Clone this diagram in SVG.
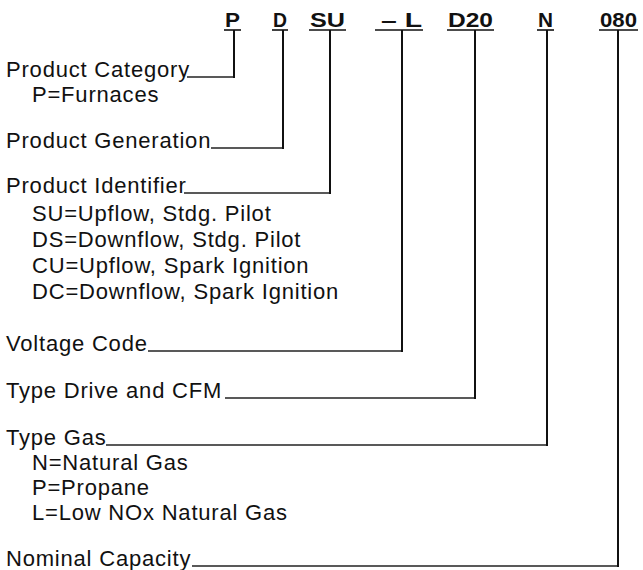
<svg xmlns="http://www.w3.org/2000/svg" width="643" height="570" viewBox="0 0 643 570">
<style>
.t{font-family:"Liberation Sans",Arial,sans-serif;font-size:22px;letter-spacing:0.8px;fill:#111}
.c{font-family:"Liberation Sans",Arial,sans-serif;font-size:21px;font-weight:bold;fill:#111}
.h{stroke:#222;stroke-width:1.4;fill:none}
.v{stroke:#111;stroke-width:2;fill:none}
.ul{stroke:#111;stroke-width:1.6}
</style>
<rect width="643" height="570" fill="#fff"/>
<g id="codes">
<text class="c" x="225" y="27" textLength="15" lengthAdjust="spacingAndGlyphs">P</text>
<text class="c" x="273" y="27" textLength="14" lengthAdjust="spacingAndGlyphs">D</text>
<text class="c" x="310" y="27" textLength="35" lengthAdjust="spacingAndGlyphs">SU</text>
<text class="c" x="381" y="27" textLength="41" lengthAdjust="spacingAndGlyphs">– L</text>
<text class="c" x="448" y="27" textLength="45" lengthAdjust="spacingAndGlyphs">D20</text>
<text class="c" x="538" y="27" textLength="15" lengthAdjust="spacingAndGlyphs">N</text>
<text class="c" x="600" y="27" textLength="37" lengthAdjust="spacingAndGlyphs">080</text>
<line class="ul" x1="224" y1="30" x2="241" y2="30"/>
<line class="ul" x1="272" y1="30" x2="288" y2="30"/>
<line class="ul" x1="309" y1="30" x2="346" y2="30"/>
<line class="ul" x1="375" y1="30" x2="423" y2="30"/>
<line class="ul" x1="447" y1="30" x2="494" y2="30"/>
<line class="ul" x1="537" y1="30" x2="554" y2="30"/>
<line class="ul" x1="599" y1="30" x2="638" y2="30"/>
</g>
<g id="labels">
<text class="t" x="6" y="77">Product Category</text>
<text class="t" x="32" y="102">P=Furnaces</text>
<text class="t" x="6" y="148">Product Generation</text>
<text class="t" x="6" y="193">Product Identifier</text>
<text class="t" x="32" y="221">SU=Upflow, Stdg. Pilot</text>
<text class="t" x="32" y="247">DS=Downflow, Stdg. Pilot</text>
<text class="t" x="32" y="273">CU=Upflow, Spark Ignition</text>
<text class="t" x="32" y="299">DC=Downflow, Spark Ignition</text>
<text class="t" x="6" y="351">Voltage Code</text>
<text class="t" x="6" y="398">Type Drive and CFM</text>
<text class="t" x="6" y="445">Type Gas</text>
<text class="t" x="32" y="470">N=Natural Gas</text>
<text class="t" x="32" y="495">P=Propane</text>
<text class="t" x="32" y="520">L=Low NOx Natural Gas</text>
<text class="t" x="6" y="566">Nominal Capacity</text>
</g>
<g id="connectors">
<line class="h" x1="187" y1="77" x2="235" y2="77"/><line class="v" x1="234" y1="78" x2="234" y2="30"/>
<line class="h" x1="211" y1="148" x2="284" y2="148"/><line class="v" x1="283" y1="149" x2="283" y2="30"/>
<line class="h" x1="184" y1="193" x2="331" y2="193"/><line class="v" x1="330" y1="194" x2="330" y2="30"/>
<line class="h" x1="148" y1="351" x2="403" y2="351"/><line class="v" x1="402" y1="352" x2="402" y2="30"/>
<line class="h" x1="225" y1="398" x2="476" y2="398"/><line class="v" x1="475" y1="399" x2="475" y2="30"/>
<line class="h" x1="106" y1="445" x2="548" y2="445"/><line class="v" x1="547" y1="446" x2="547" y2="30"/>
<line class="h" x1="192" y1="566" x2="619" y2="566"/><line class="v" x1="618" y1="567" x2="618" y2="30"/>
</g>
</svg>
